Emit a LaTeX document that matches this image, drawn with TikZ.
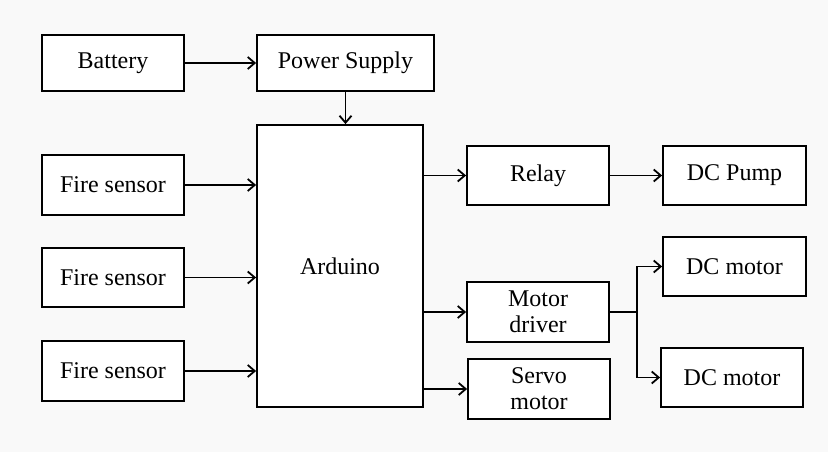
\documentclass[tikz,border=0pt]{standalone}
\usepackage{fontspec}
\setmainfont{Liberation Serif}
\usetikzlibrary{arrows.meta}

\tikzset{
    block/.style={draw, line width=1.8pt, fill=white, inner sep=0pt, align=center,
        minimum width=142pt, minimum height=59pt, font=\fontsize{24}{26}\selectfont},
    link/.style={line width=1.8pt, -{Straight Barb[length=7pt,width=12pt,line width=1.8pt]}}
}

\begin{document}
\begin{tikzpicture}[x=1pt, y=-1pt]
    % Background and page size
    \fill[gray!5] (0,0) rectangle (828,452);
    \useasboundingbox (0,0) rectangle (828,452);

    % Power path
    \node[block] (battery) at (113,63) [minimum height=56pt] {Battery};
    \node[block] (psupply) at (345.5,63) [minimum width=177pt, minimum height=56pt] {Power Supply};

    % Controller
    \node[block] (arduino) at (340,266) [minimum width=166pt, minimum height=282pt] {Arduino};

    % Sensors
    \node[block] (fire1) at (113,185) [minimum height=60pt] {Fire sensor};
    \node[block] (fire2) at (113,277.5) {Fire sensor};
    \node[block] (fire3) at (113,371) [minimum height=60pt] {Fire sensor};

    % Outputs
    \node[block] (relay) at (538,175.5) {Relay};
    \node[block] (pump) at (734.5,175.5) [minimum width=143pt] {DC Pump};
    \node[block] (driver) at (538,312) [minimum height=60pt] {Motor\\driver};
    \node[block] (servo) at (539,389) [minimum height=60pt] {Servo\\motor};
    \node[block] (motor1) at (734.5,266.5) [minimum width=143pt] {DC motor};
    \node[block] (motor2) at (732,377.5) {DC motor};

    % Connections
    \draw[link] (battery.east) -- (psupply.west);
    \draw[link] (psupply.south) -- (psupply.south |- arduino.north);
    \draw[link] (fire1.east) -- (arduino.west |- fire1.east);
    \draw[link] (fire2.east) -- (arduino.west |- fire2.east);
    \draw[link] (fire3.east) -- (arduino.west |- fire3.east);
    \draw[link] (arduino.east |- relay.west) -- (relay.west);
    \draw[link] (relay.east) -- (pump.west);
    \draw[link] (arduino.east |- driver.west) -- (driver.west);
    \draw[link] (arduino.east |- servo.west) -- (servo.west);

    % Motor driver split
    \coordinate (split) at (637,312);
    \draw[line width=1.8pt] (driver.east) -- (split);
    \draw[link] (split) |- (motor1.west);
    \draw[link] (split) |- (motor2.west);
\end{tikzpicture}
\end{document}
